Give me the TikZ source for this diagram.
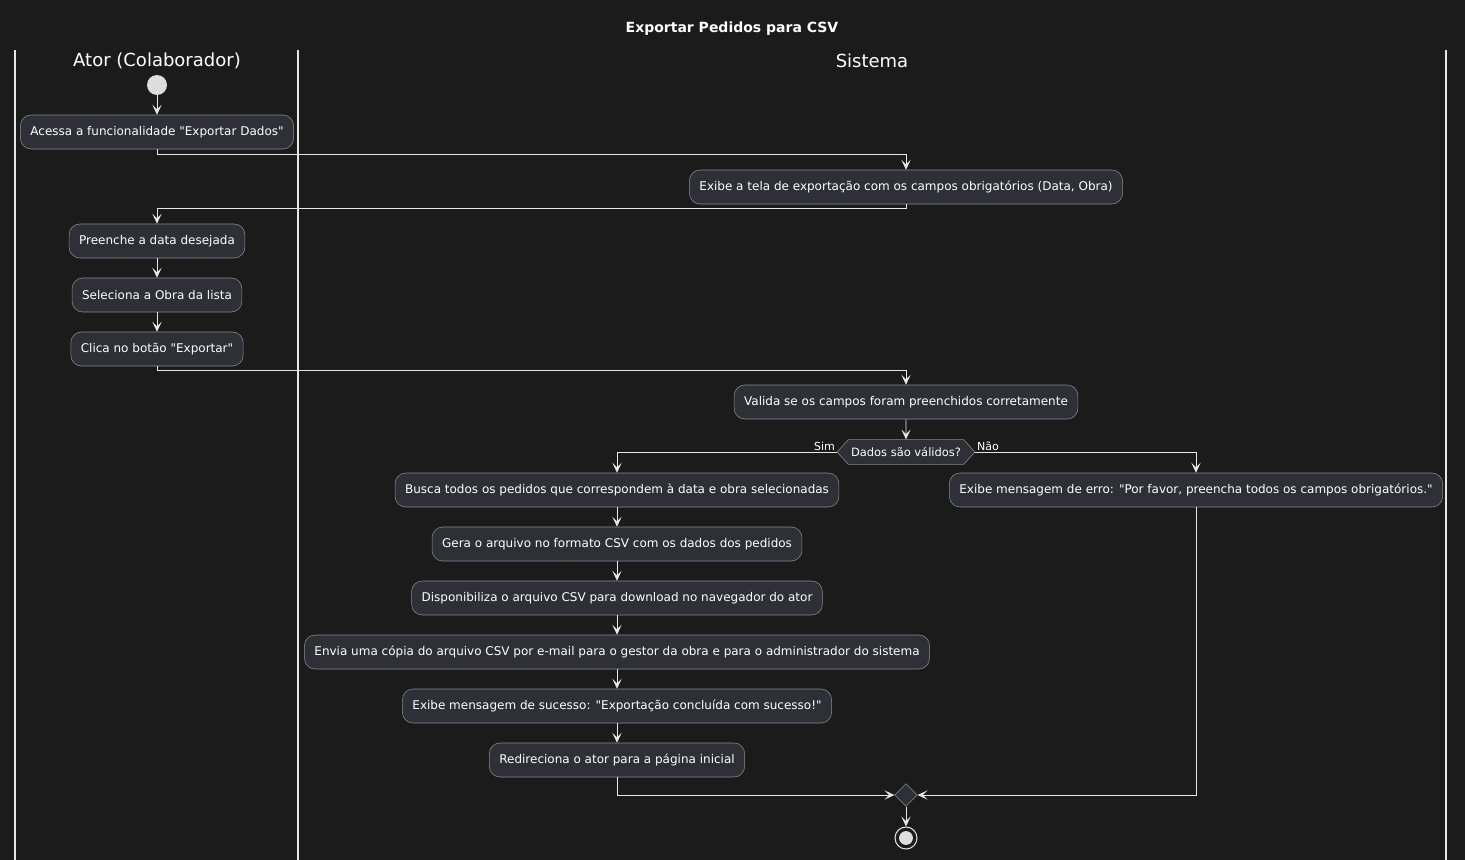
\documentclass[tikz,border=0pt]{standalone}
\usepackage{fontspec}
\setmainfont{DejaVu Sans}
\newfontfamily\plainsans{DejaVu Sans}
\usetikzlibrary{arrows.meta, positioning, shapes.geometric, shapes.symbols}

\definecolor{bgdark}{HTML}{1B1B1B}
\definecolor{boxfill}{HTML}{2F2F38}
\definecolor{boxline}{HTML}{8C8C8C}
\definecolor{flowline}{HTML}{E6E6E6}
\definecolor{dotgrey}{HTML}{DDDDDD}

\begin{document}
\begin{tikzpicture}[x=0.75pt,y=-0.75pt,
    act/.style={draw=boxline, fill=boxfill, rounded corners=8pt, text=white,
      font=\plainsans\fontsize{9}{11}\selectfont, minimum height=25.5pt, inner xsep=7.5pt},
    flow/.style={draw=flowline, line width=0.7pt,
      -{Stealth[length=7.5pt,width=7pt,inset=3.5pt]}},
    lane/.style={draw=flowline, line width=0.8pt},
    lanehead/.style={text=white, font=\plainsans\fontsize{13.5}{15}\selectfont},
    lbl/.style={text=white, font=\plainsans\fontsize{8.3}{9}\selectfont, inner sep=1pt}]
  \fill[bgdark] (0,0) rectangle (1465,860);
  \useasboundingbox (0,0) rectangle (1465,860);

  % title and lanes
  \node[text=white, font=\plainsans\bfseries\fontsize{10.5}{12}\selectfont] (title) at (732,29) {Exportar Pedidos para CSV};
  \draw[lane] (15,50) -- (15,860);
  \draw[lane] (298,50) -- (298,860);
  \draw[lane] (1446,50) -- (1446,860);
  \node[lanehead] (ator) at (157,61) {Ator (Colaborador)};
  \node[lanehead] (sis) at (872,61) {Sistema};

  % actor lane
  \node[circle, fill=dotgrey, minimum size=15pt, inner sep=0pt] (start) at (157,85) {};
  \node[act] (acessa) at (157,132) {Acessa a funcionalidade "Exportar Dados"};
  \node[act] (tela) at (906,187) {Exibe a tela de exportação com os campos obrigatórios (Data, Obra)};
  \node[act] (data) at (157,241) {Preenche a data desejada};
  \node[act] (obra) at (157,295) {Seleciona a Obra da lista};
  \node[act] (clica) at (157,349) {Clica no botão "Exportar"};

  % system lane
  \node[act] (valida) at (906,402) {Valida se os campos foram preenchidos corretamente};
  \node[signal, signal to=east and west, signal pointer angle=95, draw=boxline, fill=boxfill,
    text=white, font=\plainsans\fontsize{8.6}{10}\selectfont, minimum height=18.5pt, inner xsep=2pt] (dec) at (906,452) {Dados são válidos?};
  \node[act] (busca) at (617,490) {Busca todos os pedidos que correspondem à data e obra selecionadas};
  \node[act] (gera) at (617,544) {Gera o arquivo no formato CSV com os dados dos pedidos};
  \node[act] (disp) at (617,598) {Disponibiliza o arquivo CSV para download no navegador do ator};
  \node[act] (envia) at (617,652) {Envia uma cópia do arquivo CSV por e-mail para o gestor da obra e para o administrador do sistema};
  \node[act] (suc) at (617,706) {Exibe mensagem de sucesso: "Exportação concluída com sucesso!"};
  \node[act] (redir) at (617,760) {Redireciona o ator para a página inicial};
  \node[act] (erro) at (1196,490) {Exibe mensagem de erro: "Por favor, preencha todos os campos obrigatórios."};
  \node[diamond, draw=boxline, fill=boxfill, minimum size=17pt, inner sep=0pt] (merge) at (906,795) {};
  \node[circle, draw=dotgrey, line width=0.8pt, minimum size=16.5pt, inner sep=0pt] (stop) at (906,838) {};
  \fill[dotgrey] (stop) circle (5.2pt);

  \draw[flow] (start) -- (acessa);
  \draw[flow] (acessa.south) -- ++(0,5) -| (tela.north);
  \draw[flow] (tela.south) -- ++(0,4) -| (data.north);
  \draw[flow] (data) -- (obra);
  \draw[flow] (obra) -- (clica);
  \draw[flow] (clica.south) -- ++(0,4) -| (valida.north);
  \draw[flow] (valida) -- (dec);
  \draw[flow] (dec.west) node[lbl, anchor=south east] {Sim} -| (busca.north);
  \draw[flow] (dec.east) node[lbl, anchor=south west] {Não} -| (erro.north);
  \draw[flow] (busca) -- (gera);
  \draw[flow] (gera) -- (disp);
  \draw[flow] (disp) -- (envia);
  \draw[flow] (envia) -- (suc);
  \draw[flow] (suc) -- (redir);
  \draw[flow] (redir.south) |- (merge.west);
  \draw[flow] (erro.south) |- (merge.east);
  \draw[flow] (merge) -- (stop);
\end{tikzpicture}
\end{document}
